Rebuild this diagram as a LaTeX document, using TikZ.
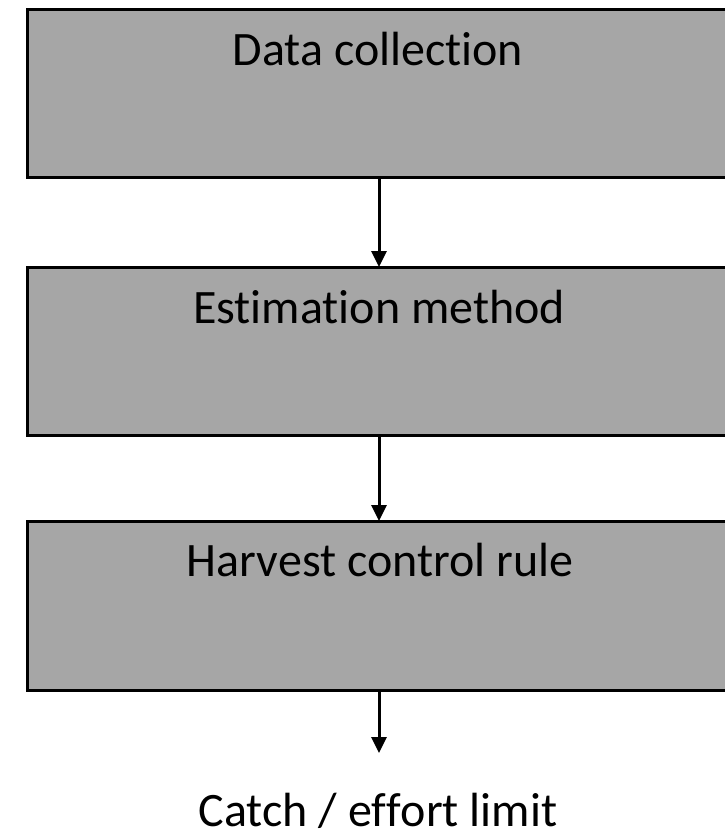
\documentclass[tikz,border=0pt]{standalone}
\usepackage{fontspec}
\setmainfont[RawFeature={-liga;-clig;-dlig;-calt}]{Carlito}
\usetikzlibrary{arrows.meta}
\definecolor{boxgray}{HTML}{A6A6A6}
\newcommand{\nolig}{\kern0pt{}}
\tikzset{
  stagebox/.style={draw=black, line width=3pt, fill=boxgray},
  lbl/.style={anchor=base, inner sep=0pt, font=\fontsize{48}{56}\selectfont, text=black},
  flow/.style={line width=3pt, -{Triangle[length=16pt,width=15pt]}}
}
\begin{document}
\begin{tikzpicture}[x=1pt,y=-1pt]
\useasboundingbox (0,0) rectangle (725,839);
\draw[stagebox] (27,9) rectangle (745,177);
\draw[stagebox] (27,267) rectangle (745,435);
\draw[stagebox] (27,521) rectangle (745,690);
\coordinate (b1s) at (379,177);
\coordinate (b2n) at (379,267);
\coordinate (b2s) at (379,435);
\coordinate (b3n) at (379,521);
\coordinate (b3s) at (379,690);
\coordinate (outend) at (379,753);
\node[lbl] (t1) at (378,65) {Data collect\nolig ion};
\node[lbl] (t2) at (379,323) {Estimat\nolig ion method};
\node[lbl] (t3) at (380,576) {Harvest control rule};
\node[lbl] (t4) at (378,826) {Catch / ef\nolig f\nolig ort limit};
\draw[flow] (b1s) -- (b2n);
\draw[flow] (b2s) -- (b3n);
\draw[flow] (b3s) -- (outend);
\end{tikzpicture}
\end{document}
